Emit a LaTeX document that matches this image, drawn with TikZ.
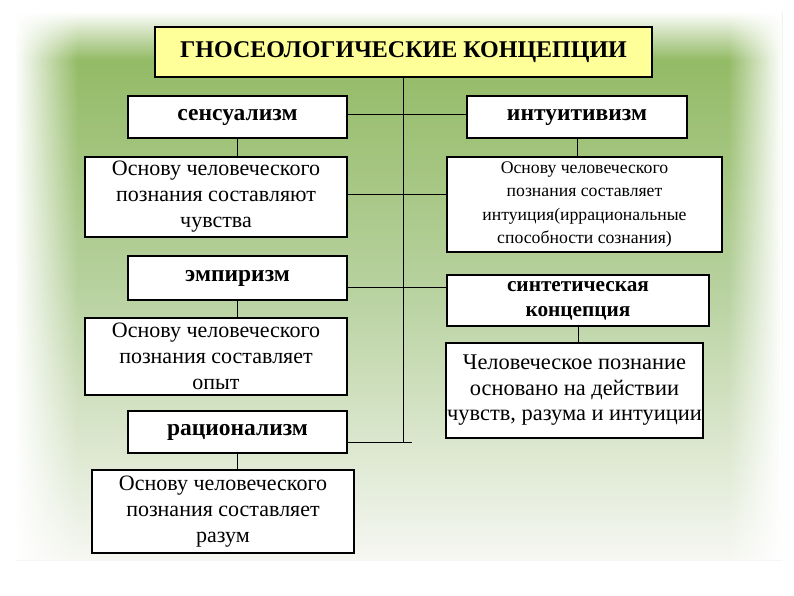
\documentclass[tikz,border=0pt]{standalone}
\usepackage{fontspec}
\setmainfont{Liberation Serif}
\usetikzlibrary{positioning,fadings}
\tikzfading[name=fade to right, left color=transparent!0, right color=transparent!100]
\tikzfading[name=fade to left, left color=transparent!100, right color=transparent!0]
\tikzfading[name=fade to bottom, top color=transparent!0, bottom color=transparent!100]
\definecolor{panelgreen}{HTML}{8CB65A}
\definecolor{panelmid}{HTML}{B7D19E}
\definecolor{panelpale}{HTML}{F6F7F2}
\definecolor{titleyellow}{HTML}{FFFF99}
\tikzset{
  conceptbox/.style={
    draw,
    line width=1.6pt,
    fill=white,
    align=center,
    inner sep=1pt,
    font=\fontsize{23.5}{26}\selectfont\bfseries
  },
  notebox/.style={
    draw,
    line width=1.6pt,
    fill=white,
    align=center,
    inner sep=0pt,
    font=\fontsize{22}{26}\selectfont
  },
  titlebox/.style={conceptbox, fill=titleyellow, font=\fontsize{24}{26}\selectfont\bfseries},
  linkline/.style={line width=0.8pt}
}
\begin{document}
\begin{tikzpicture}[x=1pt, y=-1pt]
  % background
  \useasboundingbox (0,0) rectangle (794,595);
  \fill[white] (0,0) rectangle (794,595);
  \shade[top color=panelgreen, bottom color=panelpale, middle color=panelmid]
    (15,12) rectangle (782,560);
  \fill[white, path fading=fade to right] (15,12) rectangle (78,560);
  \fill[white, path fading=fade to left] (728,12) rectangle (782,560);
  \fill[white, path fading=fade to bottom] (15,12) rectangle (782,60);

  % boxes
  \node[titlebox, minimum width=497, minimum height=50] (title) at (403.5,52)
    {ГНОСЕОЛОГИЧЕСКИЕ КОНЦЕПЦИИ};

  \node[conceptbox, minimum width=219, minimum height=42] (sens) at (237.5,117) {сенсуализм};
  \node[notebox, minimum width=262, minimum height=80] (sensnote) at (216,197)
    {Основу человеческого\\познания составляют\\чувства};
  \node[conceptbox, minimum width=219, minimum height=44] (empir) at (237.5,278) {эмпиризм};
  \node[notebox, minimum width=262, minimum height=77] (empirnote) at (216,356.5)
    {Основу человеческого\\познания составляет\\опыт};
  \node[conceptbox, minimum width=219, minimum height=42] (ratio) at (237.5,432) {рационализм};
  \node[notebox, minimum width=262, minimum height=83] (rationote) at (223,511.5)
    {Основу человеческого\\познания составляет\\разум};

  \node[conceptbox, minimum width=220, minimum height=42] (intu) at (577,117) {интуитивизм};
  \node[notebox, minimum width=275, minimum height=95, font=\fontsize{17.7}{23.5}\selectfont]
    (intunote) at (584.5,204.5)
    {Основу человеческого\\познания составляет\\интуиция(иррациональные\\способности сознания)};
  \node[conceptbox, minimum width=262, minimum height=51, font=\fontsize{21.3}{25}\selectfont\bfseries]
    (synth) at (578,300.5) {синтетическая\\концепция};
  \node[notebox, minimum width=257, minimum height=95, font=\fontsize{22.4}{25.5}\selectfont]
    (synthnote) at (574.5,390.5)
    {Человеческое познание\\основано на действии\\чувств, разума и интуиции};

  % trunk
  \coordinate (trunkend) at (title.south |- 0,442);
  \draw[linkline] (title.south) -- (trunkend);
  \draw[linkline] ([yshift=-10]ratio.east) -- ([xshift=8]trunkend);

  % cross links
  \draw[linkline] ([yshift=3]sens.east) -- ([yshift=3]sens.east -| intu.west);
  \draw[linkline] ([yshift=3]sensnote.east) -- ([yshift=3]sensnote.east -| intunote.west);
  \draw[linkline] ([yshift=-9]empir.east) -- ([yshift=-9]empir.east -| synth.west);

  % concept to note
  \draw[linkline] (sens.south) -- (sens.south |- sensnote.north);
  \draw[linkline] (empir.south) -- (empir.south |- empirnote.north);
  \draw[linkline] (ratio.south) -- (ratio.south |- rationote.north);
  \draw[linkline] (intu.south) -- (intu.south |- intunote.north);
  \draw[linkline] (synth.south) -- (synth.south |- synthnote.north);
\end{tikzpicture}
\end{document}
